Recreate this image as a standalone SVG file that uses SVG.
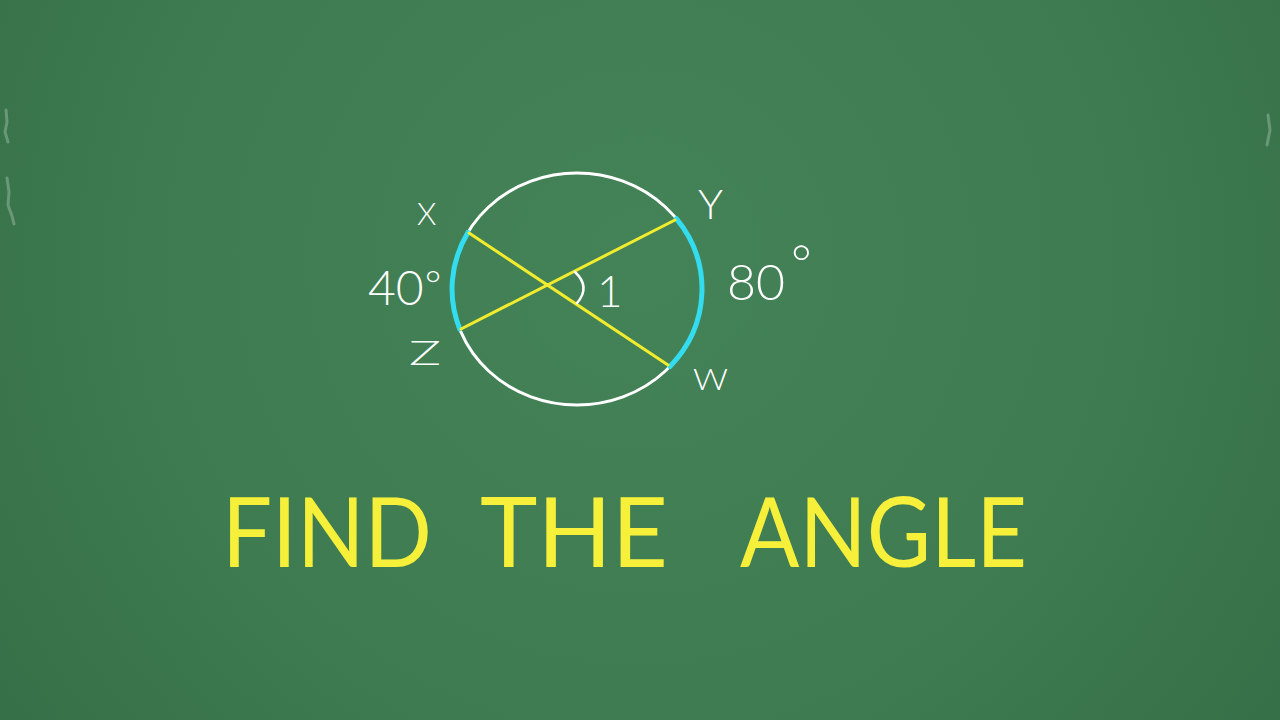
<svg xmlns="http://www.w3.org/2000/svg" width="1280" height="720" viewBox="0 0 1280 720">
  <defs>
    <radialGradient id="board" cx="640" cy="260" r="820" gradientUnits="userSpaceOnUse">
      <stop offset="0" stop-color="#448257"/>
      <stop offset="0.6" stop-color="#3e7b50"/>
      <stop offset="1" stop-color="#346e46"/>
    </radialGradient>
    <style>
      .chalk { fill: #ffffff; font-family: "Lato", "Liberation Sans", sans-serif; font-weight: 300; }
      .title { fill: #f7f03a; font-family: "Lato", "Liberation Sans", sans-serif; font-weight: 400; font-size: 96px; }
      .circle { fill: none; stroke: #ffffff; stroke-width: 3; }
      .chord { fill: none; stroke: #f2ec2e; stroke-width: 3; stroke-linecap: round; }
      .arc { fill: none; stroke: #34dcef; stroke-width: 5; stroke-linecap: round; }
      .mark { fill: none; stroke: #ffffff; stroke-width: 2.5; stroke-linecap: round; }
      .smudge { fill: none; stroke: #dfe9e2; stroke-width: 3; opacity: 0.3; stroke-linecap: round; }
    </style>
  </defs>

  <rect id="background" x="0" y="0" width="1280" height="720" fill="url(#board)"/>
  <g id="smudges">
    <path class="smudge" d="M6,110 L7,122 L5,132 L8,142"/>
    <path class="smudge" d="M7,178 L9,192 L8,205 L12,216 L14,224"/>
    <path class="smudge" d="M1268,115 L1270,130 L1267,145"/>
  </g>

  <g id="circle">
    <ellipse class="circle" cx="577" cy="289" rx="125" ry="116"/>
  </g>

  <g id="arcs">
    <path id="arc-XZ" class="arc" d="M468,232.4 A125,116 0 0 0 459.7,329"/>
    <path id="arc-YW" class="arc" d="M676.4,218.7 A125,116 0 0 1 670,366.5"/>
  </g>

  <g id="connectors">
    <line id="chord-XW" class="chord" x1="469" y1="233" x2="668" y2="365"/>
    <line id="chord-YZ" class="chord" x1="675" y1="220" x2="461" y2="329"/>
  </g>

  <g id="angle-mark">
    <path class="mark" d="M575,272 Q591,287 577,303"/>
    <text class="chalk" x="597" y="307" font-size="44">1</text>
  </g>

  <g id="label-X"><text class="chalk" x="417" y="225" font-size="31">X</text></g>
  <g id="label-Y"><text class="chalk" x="698" y="219" font-size="42">Y</text></g>
  <g id="label-Z"><text class="chalk" x="409" y="365" font-size="34" textLength="32" lengthAdjust="spacingAndGlyphs">Z</text></g>
  <g id="label-W"><text class="chalk" x="693" y="390" font-size="30" textLength="35" lengthAdjust="spacingAndGlyphs">W</text></g>

  <g id="label-40">
    <text class="chalk" x="368" y="305" font-size="48">40<tspan dx="1" dy="-6" font-size="40">°</tspan></text>
  </g>
  <g id="label-80">
    <text class="chalk" x="727" y="300" font-size="50">80<tspan dx="6" dy="-19">°</tspan></text>
  </g>

  <g id="title">
    <text class="title" x="222" y="567" textLength="210" lengthAdjust="spacingAndGlyphs">FIND</text>
    <text class="title" x="480" y="567" textLength="188" lengthAdjust="spacingAndGlyphs">THE</text>
    <text class="title" x="740" y="567" textLength="287" lengthAdjust="spacingAndGlyphs">ANGLE</text>
  </g>
</svg>
